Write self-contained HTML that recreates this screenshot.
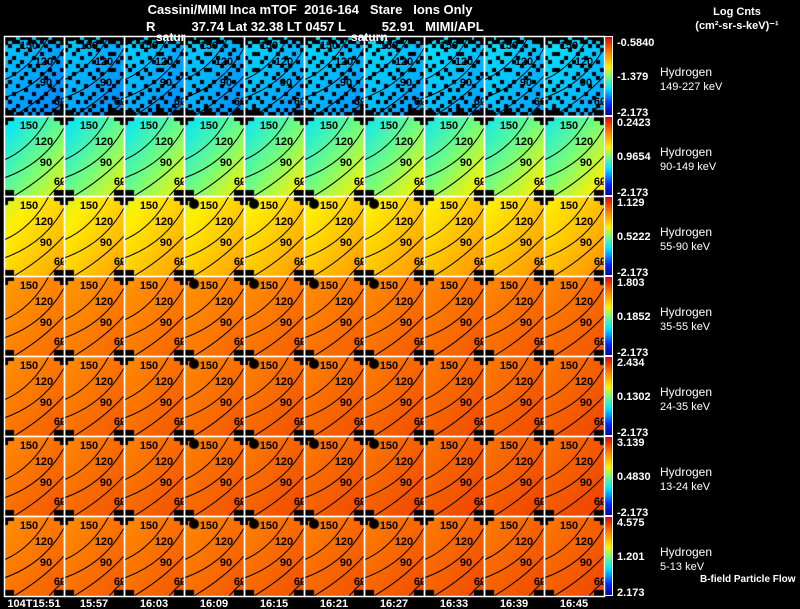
<!DOCTYPE html>
<html><head><meta charset="utf-8">
<style>
html,body{margin:0;padding:0;background:#000;}
#wrap{position:relative;width:800px;height:609px;overflow:hidden;background:#000;font-family:"Liberation Sans",sans-serif;color:#fff;}
canvas{position:absolute;left:0;top:0;}
svg{position:absolute;left:0;top:0;}
svg text{white-space:pre;}
</style></head>
<body>
<div id="wrap">
<canvas id="cv" width="800" height="609"></canvas>
<svg id="sv" width="800" height="609"></svg>
</div>
<script>
// ---- data ----
const timeLabels = ["104T15:51","15:57","16:03","16:09","16:15","16:21","16:27","16:33","16:39","16:45"];
const energyLabels = ["149-227 keV","90-149 keV","55-90 keV","35-55 keV","24-35 keV","13-24 keV","5-13 keV"];
const cbTop = ["-0.5840","0.2423","1.129","1.803","2.434","3.139","4.575"];
const cbMid = ["-1.379","0.9654","0.5222","0.1852","0.1302","0.4830","1.201"];
const cbBot = ["-2.173","-2.173","-2.173","-2.173","-2.173","-2.173","2.173"];
// normalized intensity (0..1) at panel top-left and bottom-right per energy row
const rowTopLeft = [0.32, 0.34, 0.58, 0.76, 0.78, 0.79, 0.78];
const rowBotRight = [0.24, 0.62, 0.75, 0.84, 0.86, 0.87, 0.86];
// per-column drift (later times slightly hotter)
const colDrift = [0, 0.005, 0.01, 0.01, 0.02, 0.02, 0.025, 0.03, 0.03, 0.035];
const contourLabels = ["150","120","90","60"];
// sparse-count mask for top energy row (1 = no counts, black)
const holeMask = [
 "111011101110111",
 "101100110101101",
 "010010001010010",
 "000100100001000",
 "100001000100001",
 "001000010000100",
 "010010000010010",
 "000100101000000",
 "100000010001001",
 "001001000100100",
 "000010000010000",
 "010000100000010",
 "100100001001000",
 "000001000000101",
 "001000010010000",
 "100010000100010",
 "010000101000100",
 "000100000010001",
 "101001010100101",
 "110110101011011"];

const X0=4, Y0=36, PW=60, PH=80, NC=10, NR=7;
const cv=document.getElementById('cv'), ctx=cv.getContext('2d');
const sv=document.getElementById('sv'), NS="http://www.w3.org/2000/svg";

function cmap(t){
  t=Math.max(0,Math.min(1,t));
  const stops=[[0,[0,0,140]],[0.15,[0,40,255]],[0.35,[0,230,255]],[0.5,[120,255,120]],[0.62,[255,240,0]],[0.8,[255,130,0]],[1,[220,0,0]]];
  for(let i=1;i<stops.length;i++){
    if(t<=stops[i][0]){const a=stops[i-1],b=stops[i];const f=(t-a[0])/(b[0]-a[0]);
      return `rgb(${Math.round(a[1][0]+(b[1][0]-a[1][0])*f)},${Math.round(a[1][1]+(b[1][1]-a[1][1])*f)},${Math.round(a[1][2]+(b[1][2]-a[1][2])*f)})`;}
  }
  return 'rgb(220,0,0)';
}
function xPanel(c){return X0+c*PW;}
function yPanel(r){return Y0+r*PH;}

const CS=4;
for(let r=0;r<NR;r++){
  for(let c=0;c<NC;c++){
    const px=xPanel(c), py=yPanel(r);
    for(let j=0;j<PH/CS;j++){for(let i=0;i<PW/CS;i++){
      const f=(i/(PW/CS)+j/(PH/CS))/2;
      const t=rowTopLeft[r]+(rowBotRight[r]-rowTopLeft[r])*f+colDrift[c];
      let col=cmap(t);
      if(r===0 && holeMask[j][(i+c*3)%15]==='1') col='#000';
      ctx.fillStyle=col;
      ctx.fillRect(px+i*CS,py+j*CS,CS,CS);
    }}
    ctx.fillStyle='#000';
    ctx.fillRect(px,py,10,5);ctx.fillRect(px,py+5,4,4);
    ctx.fillRect(px+PW-10,py,10,5);ctx.fillRect(px+PW-4,py+5,4,4);
    ctx.fillRect(px,py+PH-6,10,6);ctx.fillRect(px+PW-10,py+PH-6,10,6);
    if(r>=2 && c>=3 && c<=6){ctx.beginPath();ctx.arc(px+10,py+8,5,0,Math.PI*2);ctx.fill();}
  }
  const cy=yPanel(r);
  for(let k=0;k<PH;k++){ctx.fillStyle=cmap(1-k/PH);ctx.fillRect(605,cy+k,7,1);}
}

function el(tag,attrs,name,inter){const e=document.createElementNS(NS,tag);for(const k in attrs)e.setAttribute(k,attrs[k]);
  
  
  sv.appendChild(e);return e;}
function txt(x,y,s,opt,name){const e=el('text',Object.assign({x:x,y:y,fill:'#fff','font-family':'Liberation Sans, sans-serif','font-size':12,'font-weight':'bold'},opt||{}),name,'false');e.textContent=s;return e;}

const curves=[["M0,44 Q28,32 45,0",25,13],["M0,62 Q40,48 60,12",40,29],["M10,80 Q40,62 60,40",42,50],["M45,80 Q52,72 60,65",56,69]];
for(let r=0;r<NR;r++)for(let c=0;c<NC;c++){
  const px=xPanel(c),py=yPanel(r);
  const g=el('g',{transform:`translate(${px},${py})`},'panel-'+r+'-'+c,'false');
  curves.forEach((cv2,k)=>{
    const p=document.createElementNS(NS,'path');p.setAttribute('d',cv2[0]);p.setAttribute('stroke','#000');p.setAttribute('fill','none');p.setAttribute('stroke-width','1');
    
    
    g.appendChild(p);
    const t=document.createElementNS(NS,'text');t.setAttribute('x',cv2[1]);t.setAttribute('y',cv2[2]);t.setAttribute('font-size','11');t.setAttribute('font-weight','bold');t.setAttribute('text-anchor','middle');t.setAttribute('font-family','Liberation Sans, sans-serif');t.setAttribute('fill','#000');
    
    
    t.textContent=contourLabels[k];g.appendChild(t);
  });
  const b=document.createElementNS(NS,'rect');b.setAttribute('x',0.5);b.setAttribute('y',0.5);b.setAttribute('width',PW);b.setAttribute('height',PH);b.setAttribute('fill','none');b.setAttribute('stroke','#fff');b.setAttribute('stroke-width','1.5');
  
  
  g.appendChild(b);
}
for(let r=0;r<NR;r++){
  const cy=yPanel(r);
  el('rect',{x:604.5,y:cy+0.5,width:8,height:PH-1,fill:'none',stroke:'#fff','stroke-width':1},'colorbar-frame','false');
  txt(617,cy+10,cbTop[r],{'font-size':11},'colorbar-max-label');
  txt(617,cy+44,cbMid[r],{'font-size':11},'colorbar-mid-label');
  txt(617,cy+80,cbBot[r],{'font-size':11},'colorbar-min-label');
  txt(660,cy+40,'Hydrogen',{'font-size':12,'font-weight':'normal'},'species-label');
  txt(660,cy+54,energyLabels[r],{'font-size':11,'font-weight':'normal'},'energy-range-label');
}
txt(310,14,'Cassini/MIMI Inca mTOF  2016-164   Stare   Ions Only',{'text-anchor':'middle','font-size':13},'chart-title');
txt(146,31,'R          37.74 Lat 32.38 LT 0457 L          52.91   MIMI/APL',{'font-size':13},'orbit-info');
txt(156,41,'satur',{'font-size':12},'saturn-label');
txt(351,41,'saturn',{'font-size':12},'saturn-label');
txt(737,15,'Log Cnts',{'text-anchor':'middle','font-size':11},'colorbar-units-title');
txt(737,29,'(cm²-sr-s-keV)⁻¹',{'text-anchor':'middle','font-size':11},'colorbar-units');
txt(700,582,'B-field Particle Flow',{'font-size':10},'legend-note');
for(let c=0;c<NC;c++){txt(xPanel(c)+PW/2,607,timeLabels[c],{'text-anchor':'middle','font-size':11},'time-tick-label');}
</script>
</body></html>
